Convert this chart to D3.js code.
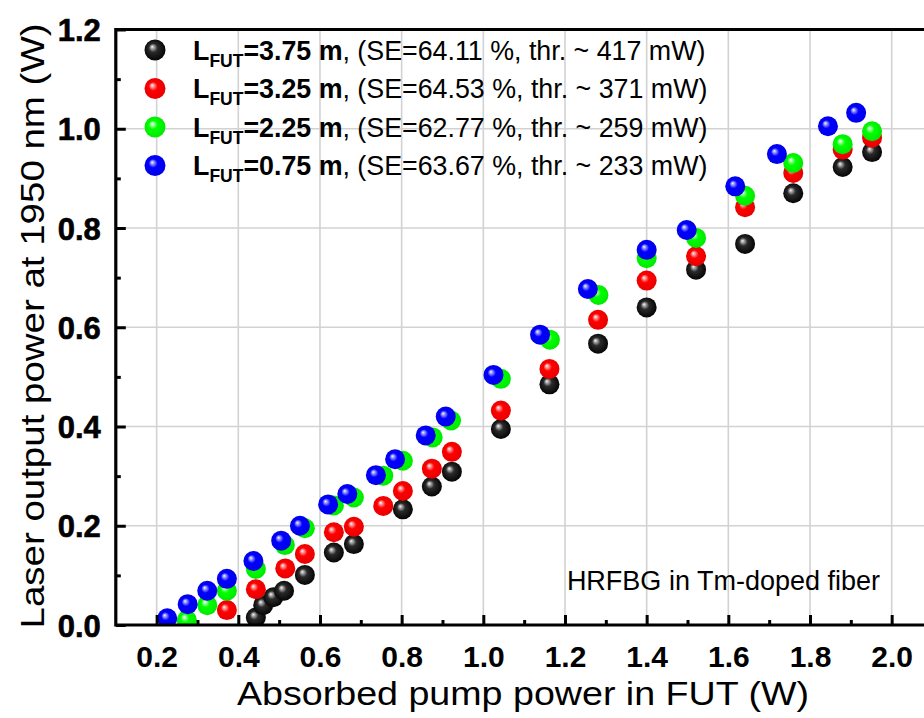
<!DOCTYPE html>
<html><head><meta charset="utf-8">
<script src="https://cdn.jsdelivr.net/npm/d3@7"></script>
<style>body{margin:0;background:#fff} svg{display:block}</style>
</head><body><svg id="c" width="924" height="718"></svg>
<script>
// ---- data ----
const pump375 = [0.443,0.461,0.486,0.512,0.563,0.634,0.683,0.803,0.874,0.923,1.043,1.162,1.281,1.400,1.521,1.641,1.759,1.880,1.952];
const out375  = [0.015,0.040,0.056,0.069,0.101,0.146,0.163,0.233,0.279,0.309,0.395,0.485,0.567,0.640,0.716,0.768,0.870,0.923,0.953];
const pump325 = [0.372,0.443,0.515,0.563,0.634,0.683,0.755,0.803,0.874,0.923,1.043,1.162,1.281,1.400,1.521,1.641,1.759,1.880,1.952];
const out325  = [0.030,0.072,0.114,0.143,0.187,0.198,0.240,0.270,0.315,0.349,0.432,0.516,0.615,0.694,0.743,0.842,0.911,0.958,0.982];
const pump225 = [0.274,0.324,0.372,0.443,0.514,0.563,0.634,0.683,0.755,0.803,0.876,0.921,1.043,1.163,1.282,1.400,1.521,1.641,1.759,1.880,1.952];
const out225  = [0.010,0.040,0.069,0.113,0.161,0.195,0.241,0.257,0.301,0.331,0.378,0.412,0.496,0.575,0.665,0.739,0.780,0.865,0.931,0.969,0.995];
const pump075 = [0.226,0.276,0.324,0.372,0.437,0.505,0.551,0.620,0.667,0.737,0.784,0.859,0.908,1.025,1.139,1.256,1.400,1.498,1.617,1.719,1.844,1.913];
const out075  = [0.0135,0.042,0.069,0.093,0.129,0.170,0.200,0.243,0.264,0.302,0.334,0.382,0.420,0.504,0.585,0.677,0.756,0.796,0.884,0.949,1.005,1.032];

const seriesLength = ["3.75 m","3.25 m","2.25 m","0.75 m"];
const seriesSE     = ["64.11","64.53","62.77","63.67"];
const seriesThr    = ["417","371","259","233"];
const seriesColor  = ["black","red","green","blue"];
const seriesX = [pump375, pump325, pump225, pump075];
const seriesY = [out375, out325, out225, out075];

const xTickValues = [0.2,0.4,0.6,0.8,1.0,1.2,1.4,1.6,1.8,2.0];
const yTickValues = [0.0,0.2,0.4,0.6,0.8,1.0,1.2];
const xMinorValues = [0.3,0.5,0.7,0.9,1.1,1.3,1.5,1.7,1.9];
const yMinorValues = [0.1,0.3,0.5,0.7,0.9,1.1];
const xTitle = "Absorbed pump power in FUT (W)";
const yTitle = "Laser output power at 1950 nm (W)";
const note = "HRFBG in Tm-doped fiber";

// ---- layout ----
const svg = d3.select("#c");
const L = 115.8, R = 932.5, T = 29.5, B = 625;
const x = d3.scaleLinear().domain([0.1, 2.1]).range([L, R]);
const y = d3.scaleLinear().domain([0, 1.2]).range([B, T]);

const defs = svg.append("defs");
const grad = {
  black: ["#ffffff","#bdbdbd","#2a2a2a","#000000"],
  red:   ["#ffffff","#ffb4b4","#ff0000","#e60000"],
  green: ["#ffffff","#b8ffb8","#00ff00","#00e600"],
  blue:  ["#ffffff","#b4b4ff","#0000ff","#0000e6"]
};
Object.entries(grad).forEach(([k, c]) => {
  const g = defs.append("radialGradient").attr("id", "g-" + k)
    .attr("cx", 0.5).attr("cy", 0.5).attr("r", 0.55).attr("fx", 0.36).attr("fy", 0.34);
  g.append("stop").attr("offset", "0%").attr("stop-color", c[0]);
  g.append("stop").attr("offset", "10%").attr("stop-color", c[1]);
  g.append("stop").attr("offset", "38%").attr("stop-color", c[2]);
  g.append("stop").attr("offset", "100%").attr("stop-color", c[3]);
});
defs.append("clipPath").attr("id", "plotclip").append("rect")
  .attr("x", L).attr("y", T).attr("width", R - L).attr("height", B - T);

// grid
svg.append("g").selectAll("line").data(xTickValues).join("line")
  .attr("x1", d => x(d)).attr("x2", d => x(d)).attr("y1", T).attr("y2", B)
  .attr("stroke", "#d2d2d2").attr("stroke-width", 1.6);
svg.append("g").selectAll("line").data(yTickValues.filter(v => v > 0 && v < 1.2)).join("line")
  .attr("x1", L).attr("x2", R).attr("y1", d => y(d)).attr("y2", d => y(d))
  .attr("stroke", "#d2d2d2").attr("stroke-width", 1.6);

// points
const pts = svg.append("g").attr("clip-path", "url(#plotclip)");
seriesX.forEach((xs, i) => {
  pts.append("g").selectAll("circle").data(xs.map((v, j) => [v, seriesY[i][j]])).join("circle")
    .attr("cx", d => x(d[0])).attr("cy", d => y(d[1])).attr("r", 10)
    .attr("fill", "url(#g-" + seriesColor[i] + ")");
});

// axes
const xAxis = d3.axisBottom(x).tickValues(xTickValues).tickSize(-10).tickPadding(21)
  .tickFormat(d3.format(".1f"));
const gx = svg.append("g").attr("transform", `translate(0,${B})`).call(xAxis);
gx.select(".domain").remove();
gx.selectAll(".tick line").attr("stroke", "#000").attr("stroke-width", 3);
gx.selectAll(".tick text").attr("font-family", "Liberation Sans, Arial, sans-serif")
  .attr("font-weight", "bold").attr("font-size", 30).attr("fill", "#000");
const gxm = svg.append("g").attr("transform", `translate(0,${B})`)
  .call(d3.axisBottom(x).tickValues(xMinorValues).tickSize(-5).tickFormat(""));
gxm.select(".domain").remove();
gxm.selectAll(".tick line").attr("stroke", "#000").attr("stroke-width", 3);

const yAxis = d3.axisLeft(y).tickValues(yTickValues).tickSize(-10).tickPadding(15)
  .tickFormat(d3.format(".1f"));
const gy = svg.append("g").attr("transform", `translate(${L},0)`).call(yAxis);
gy.select(".domain").remove();
gy.selectAll(".tick line").attr("stroke", "#000").attr("stroke-width", 3);
gy.selectAll(".tick text").attr("font-family", "Liberation Sans, Arial, sans-serif")
  .attr("font-weight", "bold").attr("font-size", 31).attr("fill", "#000").attr("dy", "0.36em")
  .attr("stroke", "#000").attr("stroke-width", 0.6);
const gym = svg.append("g").attr("transform", `translate(${L},0)`)
  .call(d3.axisLeft(y).tickValues(yMinorValues).tickSize(-5).tickFormat(""));
gym.select(".domain").remove();
gym.selectAll(".tick line").attr("stroke", "#000").attr("stroke-width", 3);

// frame
svg.append("path")
  .attr("d", `M${L},${B}H${R}M${L},${B}V${T}H${R}`)
  .attr("fill", "none").attr("stroke", "#000").attr("stroke-width", 3.2).attr("stroke-linecap", "square");

// titles
svg.append("text").attr("x", 523).attr("y", 705).attr("text-anchor", "middle")
  .attr("font-family", "Liberation Sans, Arial, sans-serif").attr("font-size", 34)
  .attr("textLength", 572).attr("lengthAdjust", "spacingAndGlyphs").text(xTitle);
svg.append("text").attr("transform", "translate(44,326) rotate(-90)").attr("text-anchor", "middle")
  .attr("font-family", "Liberation Sans, Arial, sans-serif").attr("font-size", 34)
  .attr("textLength", 605).attr("lengthAdjust", "spacingAndGlyphs").text(yTitle);

// note
svg.append("text").attr("x", 880).attr("y", 590).attr("text-anchor", "end")
  .attr("font-family", "Liberation Sans, Arial, sans-serif").attr("font-size", 27).text(note);

// legend
const legY = [50, 88.5, 127, 165.5];
const leg = svg.append("g");
seriesColor.forEach((c, i) => {
  leg.append("circle").attr("cx", 155).attr("cy", legY[i]).attr("r", 10.5)
    .attr("fill", "url(#g-" + c + ")");
  const t = leg.append("text").attr("x", 193).attr("y", legY[i] + 9.5)
    .attr("font-family", "Liberation Sans, Arial, sans-serif").attr("font-size", 26.8);
  t.append("tspan").attr("font-weight", "bold").text("L");
  t.append("tspan").attr("font-weight", "bold").attr("font-size", 17.5).attr("dy", 7).text("FUT");
  t.append("tspan").attr("font-weight", "bold").attr("dy", -7).text("=" + seriesLength[i]);
  t.append("tspan").text(`, (SE=${seriesSE[i]} %, thr. ~ ${seriesThr[i]} mW)`);
});
</script>
</body></html>
